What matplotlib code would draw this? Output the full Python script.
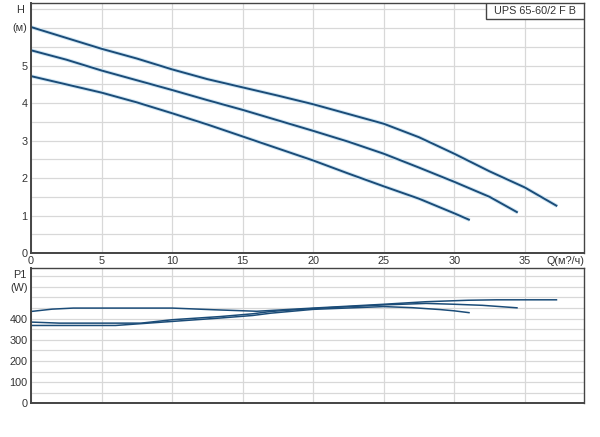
import matplotlib
matplotlib.use("Agg")
import matplotlib.pyplot as plt
import matplotlib.patheffects as pe
import numpy as np

plt.rcParams["font.family"] = ["Liberation Sans", "DejaVu Sans"]

# pump curves H(Q), three speeds
q1 = [0, 2.5, 5, 7.5, 10, 12.5, 15, 17.5, 20, 22.5, 25, 27.5, 30, 32.5, 35, 37.3]
h1 = [6.03, 5.74, 5.45, 5.19, 4.90, 4.64, 4.42, 4.20, 3.97, 3.71, 3.45, 3.09,
      2.65, 2.18, 1.75, 1.25]
q2 = [0, 2.5, 5, 7.5, 10, 12.5, 15, 17.5, 20, 22.5, 25, 27.5, 30, 32.5, 34.5]
h2 = [5.41, 5.16, 4.87, 4.61, 4.35, 4.08, 3.82, 3.54, 3.26, 2.97, 2.65, 2.28,
      1.90, 1.50, 1.08]
q3 = [0, 2.5, 5, 7.5, 10, 12.5, 15, 17.5, 20, 22.5, 25, 27.5, 30, 31.1]
h3 = [4.72, 4.50, 4.28, 4.02, 3.73, 3.43, 3.11, 2.79, 2.47, 2.12, 1.78, 1.45,
      1.06, 0.88]

# power curves P1(Q)
pq1 = [0, 1.5, 3, 10, 13, 16, 20, 25, 28, 31, 33, 37.3]
p1 = [434, 445, 450, 450, 442, 435, 450, 468, 480, 487, 489, 489]
pq2 = [0, 2, 7.8, 10, 13.4, 15.7, 17, 20, 25, 28, 30, 32, 34.5]
p2 = [384, 379, 379, 395, 410, 423, 434, 448, 465, 472, 468, 463, 451]
pq3 = [0, 6, 10, 13.4, 15.7, 17, 20, 25, 27, 29, 30, 31.1]
p3 = [368, 368, 387, 403, 415, 426, 444, 457, 452, 443, 437, 428]

q_ticks = [0, 5, 10, 15, 20, 25, 30, 35]
h_ticks = [0, 1, 2, 3, 4, 5]
p_ticks = [0, 100, 200, 300, 400]
title = "UPS 65-60/2 F B"

line_c = "#1b4c78"
halo = [pe.Stroke(linewidth=2.8, foreground="#cfe6f4"), pe.Normal()]
grid_c = "#d8d8d8"
txt_c = "#333333"
fs = 7.8

fig = plt.figure(figsize=(6.0, 4.37), dpi=100)
ax_h = fig.add_axes([0.0517, 0.421, 0.9217, 0.572])
ax_p = fig.add_axes([0.0517, 0.0767, 0.9217, 0.310])

for ax in (ax_h, ax_p):
    ax.set_xlim(0, 39.2)
    ax.set_xticks(q_ticks)
    ax.grid(True, which="both", color=grid_c, lw=0.9)
    ax.set_axisbelow(True)
    ax.tick_params(which="both", length=0, labelsize=fs, colors=txt_c, pad=2.5)
    for s in ax.spines.values():
        s.set_color("#444444")
        s.set_linewidth(1.0)
    ax.spines["left"].set_linewidth(1.4)
    ax.spines["bottom"].set_linewidth(1.4)

# head chart
ax_h.set_ylim(0, 6.67)
ax_h.set_yticks(h_ticks)
ax_h.set_yticks(np.arange(0.5, 6.6, 0.5), minor=True)
for q, h in [(q1, h1), (q2, h2), (q3, h3)]:
    ax_h.plot(q, h, color=line_c, lw=1.4, solid_capstyle="butt", path_effects=halo)
ax_h.annotate("H", xy=(0, 6.48), xycoords=("axes fraction", "data"),
              xytext=(-5, 0), textcoords="offset points", ha="right", va="center",
              fontsize=fs, color=txt_c)
ax_h.annotate("(м)", xy=(0, 6.0), xycoords=("axes fraction", "data"),
              xytext=(-2.5, 0), textcoords="offset points", ha="right", va="center",
              fontsize=fs, color=txt_c)
ax_h.annotate("Q(м?/ч)", xy=(37.9, 0), xycoords=("data", "axes fraction"),
              xytext=(0, -2.5), textcoords="offset points", ha="center", va="top",
              fontsize=fs, color=txt_c)
ax_h.add_patch(plt.Rectangle((0.823, 0.935), 0.177, 0.065, transform=ax_h.transAxes,
                             facecolor="white", edgecolor="#444444", lw=1.0, zorder=3))
ax_h.text(0.912, 0.967, title, transform=ax_h.transAxes, ha="center", va="center",
          fontsize=fs, color=txt_c, zorder=4)

# power chart
ax_p.set_ylim(0, 639)
ax_p.set_yticks(p_ticks)
ax_p.set_yticks(np.arange(50, 640, 50), minor=True)
ax_p.tick_params(axis="x", labelbottom=False)
for q, p in [(pq1, p1), (pq2, p2), (pq3, p3)]:
    ax_p.plot(q, p, color=line_c, lw=1.1, solid_capstyle="butt")
ax_p.annotate("P1", xy=(0, 606), xycoords=("axes fraction", "data"),
              xytext=(-3.5, 0), textcoords="offset points", ha="right", va="center",
              fontsize=fs, color=txt_c)
ax_p.annotate("(W)", xy=(0, 545), xycoords=("axes fraction", "data"),
              xytext=(-2.5, 0), textcoords="offset points", ha="right", va="center",
              fontsize=fs, color=txt_c)

fig.savefig("out.png", dpi=100, facecolor="white")
plt.close(fig)
